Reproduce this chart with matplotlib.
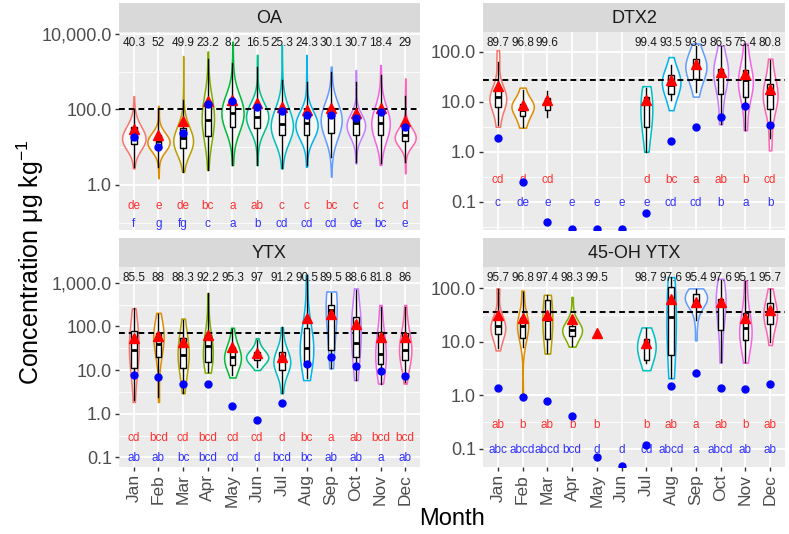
import numpy as np
import matplotlib.pyplot as plt
from matplotlib import cbook
from matplotlib.ticker import FixedLocator, FuncFormatter, NullFormatter
from matplotlib.transforms import blended_transform_factory

plt.rcParams['font.family'] = ['Liberation Sans', 'DejaVu Sans']
plt.rcParams['mathtext.default'] = 'regular'

nan = np.nan
months = ['Jan', 'Feb', 'Mar', 'Apr', 'May', 'Jun', 'Jul', 'Aug', 'Sep', 'Oct', 'Nov', 'Dec']
colors = ['#F8766D', '#DE8C00', '#B79F00', '#7CAE00', '#00BA38', '#00C08B',
          '#00BFC4', '#00B4F0', '#619CFF', '#C77CFF', '#F564E3', '#FF64B0']

# all concentrations below are log10(ug/kg)
# --- OA ---
oa_vlo = [0.44, 0.18, 0.35, 0.40, 0.53, 0.53, 0.44, 0.48, 0.22, 0.57, 0.53, 0.31]
oa_vhi = [2.35, 2.09, 3.41, 3.53, 3.79, 3.44, 3.70, 3.44, 3.13, 3.04, 3.17, 2.82]
oa_mode = [1.19, 1.10, 1.10, 1.80, 1.90, 1.80, 1.50, 1.54, 1.63, 1.54, 1.60, 1.19]
oa_vw = [0.95, 0.9, 0.8, 0.5, 0.9, 0.9, 0.9, 0.9, 0.85, 0.75, 0.75, 0.85]
oa_wlo = [0.48, 0.48, 0.35, 0.40, 0.53, 0.53, 0.44, 0.53, 0.75, 0.62, 0.57, 0.62]
oa_q1 = [1.08, 0.97, 0.97, 1.30, 1.54, 1.50, 1.32, 1.32, 1.37, 1.32, 1.32, 1.15]
oa_med = [1.26, 1.17, 1.23, 1.72, 1.91, 1.81, 1.61, 1.63, 1.85, 1.63, 1.63, 1.32]
oa_q3 = [1.53, 1.32, 1.50, 2.16, 2.25, 2.05, 1.98, 1.85, 2.03, 1.76, 1.98, 1.50]
oa_whi = [2.00, 2.00, 2.25, 3.33, 3.22, 3.13, 2.78, 2.73, 3.00, 2.73, 2.91, 2.34]
oa_mean = [1.47, 1.32, 1.68, 2.23, 2.25, 2.16, 2.05, 1.98, 2.03, 1.90, 2.03, 1.68]
oa_blue = [1.28, 1.01, 1.37, 2.14, 2.21, 2.05, 1.96, 1.85, 1.85, 1.76, 1.94, 1.54]
oa_pct = [40.3, 52, 49.9, 23.2, 8.2, 16.5, 25.3, 24.3, 30.1, 30.7, 18.4, 29]
oa_red = ['de', 'e', 'de', 'bc', 'a', 'ab', 'c', 'c', 'bc', 'c', 'c', 'd']
oa_blu = ['f', 'g', 'fg', 'c', 'a', 'b', 'cd', 'cd', 'cd', 'de', 'bc', 'e']
oa_limit = 2.0

# --- DTX2 ---
dt_vlo = [0.50, 0.48, nan, nan, nan, nan, 0.00, 0.83, 1.10, 0.55, 0.43, 0.03]
dt_vhi = [2.03, 1.28, nan, nan, nan, nan, 1.31, 1.89, 2.16, 2.12, 2.16, 1.86]
dt_mode = [1.03, 0.96, nan, nan, nan, nan, 0.65, 1.43, 1.69, 1.63, 1.36, 1.10]
dt_vw = [0.68, 0.9, 0, 0, 0, 0, 0.48, 0.75, 0.85, 0.6, 0.6, 0.6]
dt_wlo = [0.53, 0.50, 0.70, nan, nan, nan, 0.00, 1.03, 1.20, 0.56, 0.43, 0.27]
dt_q1 = [0.90, 0.71, 0.83, nan, nan, nan, 0.50, 1.16, 1.46, 1.16, 1.10, 0.86]
dt_med = [1.10, 0.83, 1.00, nan, nan, nan, 1.05, 1.33, 1.69, 1.53, 1.43, 1.16]
dt_q3 = [1.26, 0.96, 1.08, nan, nan, nan, 1.10, 1.53, 1.86, 1.66, 1.63, 1.36]
dt_whi = [1.79, 1.24, 1.22, nan, nan, nan, 1.28, 1.73, 2.12, 2.12, 2.16, 1.83]
dt_mean = [1.31, 0.93, 1.03, nan, nan, nan, 1.03, 1.43, 1.75, 1.59, 1.55, 1.26]
dt_blue = [0.28, -0.60, -1.41, -1.55, -1.55, -1.55, -1.22, 0.21, 0.50, 0.70, 0.91, 0.53]
dt_pct = [89.7, 96.8, 99.6, nan, nan, nan, 99.4, 93.5, 93.9, 86.5, 75.4, 80.8]
dt_red = ['cd', 'd', 'cd', '', '', '', 'd', 'bc', 'a', 'ab', 'b', 'cd']
dt_blu = ['c', 'de', 'e', 'e', 'e', 'e', 'e', 'cd', 'cd', 'b', 'a', 'b']
dt_limit = 1.436

# --- YTX ---
yt_vlo = [0.27, 0.27, 0.47, 0.94, 0.83, 1.00, 0.47, 0.77, 1.04, 0.77, 0.69, 0.69]
yt_vhi = [2.41, 2.31, 2.18, 2.76, 1.97, 1.73, 1.98, 3.18, 2.80, 2.87, 2.49, 2.49]
yt_mode = [1.53, 1.92, 1.38, 1.31, 1.27, 1.27, 1.15, 1.50, 2.61, 2.07, 1.31, 1.46]
yt_vw = [0.4, 0.42, 0.45, 0.4, 0.68, 0.9, 0.68, 0.55, 0.45, 0.4, 0.43, 0.5]
yt_wlo = [0.31, 0.39, 0.47, 0.96, 0.89, 1.08, 0.47, 0.81, 1.04, 0.77, 0.69, 0.73]
yt_q1 = [1.04, 1.31, 1.04, 1.19, 1.11, 1.23, 1.00, 1.15, 1.46, 1.29, 1.14, 1.23]
yt_med = [1.47, 1.60, 1.34, 1.55, 1.31, 1.31, 1.23, 1.50, 2.38, 1.63, 1.37, 1.46]
yt_q3 = [1.90, 1.84, 1.73, 1.80, 1.53, 1.42, 1.42, 1.96, 2.49, 2.21, 1.88, 1.84]
yt_whi = [2.41, 2.28, 2.15, 2.76, 1.95, 1.69, 1.98, 3.18, 2.77, 2.83, 2.45, 2.45]
yt_mean = [1.73, 1.78, 1.65, 1.80, 1.52, 1.40, 1.31, 2.19, 2.28, 2.05, 1.75, 1.75]
yt_blue = [0.89, 0.85, 0.68, 0.68, 0.18, -0.15, 0.25, 1.15, 1.31, 1.09, 0.98, 0.86]
yt_pct = [85.5, 88, 88.3, 92.2, 95.3, 97, 91.2, 90.5, 89.5, 88.6, 81.8, 86]
yt_red = ['cd', 'bcd', 'cd', 'bcd', 'cd', 'cd', 'd', 'bc', 'a', 'ab', 'bcd', 'bcd']
yt_blu = ['ab', 'ab', 'bc', 'bcd', 'cd', 'd', 'bcd', 'bc', 'ab', 'ab', 'a', 'ab']
yt_limit = 1.84

# --- 45-OH YTX ---
oh_vlo = [0.84, -0.03, 0.78, 0.91, nan, nan, 0.47, 0.32, 1.03, 0.61, 0.61, 0.94]
oh_vhi = [2.00, 1.96, 1.88, 1.84, nan, nan, 1.27, 2.21, 2.00, 2.18, 2.15, 2.00]
oh_mode = [1.25, 1.35, 1.40, 1.22, nan, nan, 0.91, 1.30, 1.84, 1.75, 1.16, 1.50]
oh_vw = [0.6, 0.45, 0.4, 0.8, 0, 0, 0.75, 0.38, 0.9, 0.4, 0.5, 0.55]
oh_wlo = [0.88, 0.91, 0.79, 0.92, nan, nan, 0.60, 0.32, 1.40, 0.62, 0.63, 1.00]
oh_q1 = [1.14, 1.08, 1.06, 1.11, nan, nan, 0.67, 0.75, 1.67, 1.23, 1.03, 1.34]
oh_med = [1.29, 1.29, 1.40, 1.22, nan, nan, 0.92, 1.47, 1.76, 1.75, 1.25, 1.52]
oh_q3 = [1.45, 1.44, 1.78, 1.29, nan, nan, 1.06, 2.03, 1.90, 1.81, 1.54, 1.72]
oh_whi = [1.98, 1.93, 1.87, 1.47, nan, nan, 1.25, 2.21, 1.98, 2.15, 2.14, 1.98]
oh_mean = [1.50, 1.45, 1.50, 1.42, 1.17, nan, 0.97, 1.81, 1.75, 1.75, 1.44, 1.59]
oh_blue = [0.13, -0.04, -0.11, -0.39, -1.16, -1.33, -0.93, 0.18, 0.41, 0.13, 0.12, 0.21]
oh_pct = [95.7, 96.8, 97.4, 98.3, 99.5, nan, 98.7, 97.6, 95.4, 97.6, 95.1, 95.7]
oh_red = ['ab', 'b', 'ab', 'b', 'b', '', 'b', 'ab', 'a', 'ab', 'b', 'ab']
oh_blu = ['abc', 'abcd', 'abcd', 'bcd', 'd', 'd', 'cd', 'abcd', 'a', 'abcd', 'ab', 'ab']
oh_limit = 1.563

fig = plt.figure(figsize=(7.89, 5.34), dpi=100)
W, H = 789, 534


def add_px(x0, y0, x1, y1):
    return fig.add_axes([x0 / W, 1 - y1 / H, (x1 - x0) / W, (y1 - y0) / H])


def make_kde(tail, whisk):
    # pseudo-sample is [vlo, wlo, q1, med, mode, q3, whi, vhi]
    w = np.array([tail, whisk, 1.0, 1.0, 1.5, 1.0, whisk, tail])

    def kde(X, coords):
        h = max(0.15, 0.6 * (X[5] - X[2]))
        d = (coords[:, None] - X[None, :]) / h
        return (np.exp(-0.5 * d ** 2) * w).sum(axis=1)
    return kde


def panel(box, title, ylim, majors, limit, tails, vlo, vhi, vmode, vw, wlo, q1, med, q3,
          whi, mean, blue, pct, red_let, blue_let, show_x):
    x0, y0, x1, y1 = box
    st = add_px(x0, y0 - 29, x1, y0)
    st.set_facecolor('#D9D9D9')
    st.set_xticks([])
    st.set_yticks([])
    for s in st.spines.values():
        s.set_visible(False)
    st.text(0.5, 0.45, title, ha='center', va='center', fontsize=13, color='#1A1A1A',
            transform=st.transAxes)

    ax = add_px(*box)
    ax.set_facecolor('#EBEBEB')
    for s in ax.spines.values():
        s.set_visible(False)
    ax.set_yscale('log')
    ax.set_xlim(0.4, 12.6)
    ax.set_ylim(10 ** ylim[0], 10 ** ylim[1])
    ax.set_axisbelow(True)

    minors = [10 ** (np.log10(m) + 0.5 * (np.log10(majors[1]) - np.log10(majors[0])))
              for m in [majors[0] / (majors[1] / majors[0])] + list(majors)]
    ax.yaxis.set_major_locator(FixedLocator(majors))
    ax.yaxis.set_minor_locator(FixedLocator(minors))
    ax.yaxis.set_major_formatter(FuncFormatter(lambda v, p: f'{v:,.1f}'))
    ax.yaxis.set_minor_formatter(NullFormatter())
    ax.set_xticks(range(1, 13))
    ax.grid(which='major', color='white', lw=1.3)
    ax.grid(which='minor', axis='y', color='white', lw=0.6)
    ax.tick_params(which='minor', length=0)
    ax.tick_params(axis='y', which='major', length=3, width=1, color='#333333',
                   labelcolor='#4D4D4D', labelsize=13, pad=2)
    if show_x:
        ax.set_xticklabels(months, rotation=90)
        ax.tick_params(axis='x', length=3, width=1, color='#333333',
                       labelcolor='#4D4D4D', labelsize=12.5, pad=2)
    else:
        ax.tick_params(axis='x', length=0, labelbottom=False)

    ax.axhline(10 ** limit, color='black', ls=(0, (3, 2)), lw=1.4, zorder=1.5)

    # violins: weighted kernel density of the read-off statistics, in log space
    idx = [i for i in range(12) if vw[i] > 0]
    data = [np.array([vlo[i], wlo[i], q1[i], med[i], vmode[i], q3[i], whi[i], vhi[i]])
            for i in idx]
    stats = cbook.violin_stats(data, make_kde(*tails), points=150)
    for s in stats:
        for k in ('coords', 'mean', 'median', 'min', 'max'):
            s[k] = 10 ** np.asarray(s[k])
    parts = ax.violin(stats, positions=[i + 1 for i in idx], widths=[vw[i] for i in idx],
                      showextrema=False)
    for j, body in zip(idx, parts['bodies']):
        body.set_alpha(None)
        body.set_facecolor((1, 1, 1, 0.65))
        body.set_edgecolor(colors[j])
        body.set_linewidth(1.1)
        body.set_zorder(1)

    bidx = [i for i in range(12) if not np.isnan(med[i])]
    bstats = [dict(med=10 ** med[i], q1=10 ** q1[i], q3=10 ** q3[i],
                   whislo=10 ** wlo[i], whishi=10 ** whi[i], fliers=[]) for i in bidx]
    ax.bxp(bstats, positions=[i + 1 for i in bidx], widths=0.22, showfliers=False,
           showcaps=False, patch_artist=True, manage_ticks=False,
           boxprops=dict(facecolor='white', edgecolor='black', linewidth=1.0),
           whiskerprops=dict(color='black', linewidth=1.0),
           medianprops=dict(color='black', linewidth=2.0))

    x = np.arange(1, 13)
    ax.plot(x, 10 ** np.array(mean), ls='none', marker='^', color='red', ms=6.5, zorder=4)
    ax.plot(x, 10 ** np.array(blue), ls='none', marker='o', color='blue', ms=5, zorder=5)

    tr = blended_transform_factory(ax.transData, ax.transAxes)
    for i in range(12):
        if not np.isnan(pct[i]):
            ax.text(i + 1, 0.945, f'{pct[i]:g}', transform=tr, ha='center', va='center',
                    fontsize=8.5, color='#1A1A1A')
        if red_let[i]:
            ax.text(i + 1, 0.28, red_let[i], ha='center', va='center', fontsize=8.5,
                    color='#FF3030')
        if blue_let[i]:
            ax.text(i + 1, 0.095, blue_let[i], ha='center', va='center', fontsize=8.5,
                    color='#3030FF')
    return ax


panel((119, 32, 420, 230), 'OA', (-1.19, 4.045), [1, 100, 10000], oa_limit, (0.03, 0.12),
      oa_vlo, oa_vhi, oa_mode, oa_vw, oa_wlo, oa_q1, oa_med, oa_q3, oa_whi,
      oa_mean, oa_blue, oa_pct, oa_red, oa_blu, False)
panel((483, 32, 785, 230), 'DTX2', (-1.56, 2.39), [0.1, 1, 10, 100], dt_limit, (0.3, 0.45),
      dt_vlo, dt_vhi, dt_mode, dt_vw, dt_wlo, dt_q1, dt_med, dt_q3, dt_whi,
      dt_mean, dt_blue, dt_pct, dt_red, dt_blu, False)
panel((119, 267, 420, 467), 'YTX', (-1.22, 3.36), [0.1, 1, 10, 100, 1000], yt_limit,
      (0.1, 0.3), yt_vlo, yt_vhi, yt_mode, yt_vw, yt_wlo, yt_q1, yt_med, yt_q3, yt_whi,
      yt_mean, yt_blue, yt_pct, yt_red, yt_blu, True)
panel((483, 267, 785, 467), '45-OH YTX', (-1.34, 2.40), [0.1, 1, 10, 100], oh_limit,
      (0.3, 0.45), oh_vlo, oh_vhi, oh_mode, oh_vw, oh_wlo, oh_q1, oh_med, oh_q3, oh_whi,
      oh_mean, oh_blue, oh_pct, oh_red, oh_blu, True)

fig.text(30 / W, 1 - 262 / H, 'Concentration μg kg$^{-1}$', rotation=90, ha='center',
         va='center', fontsize=18)
fig.text(452 / W, 1 - 519 / H, 'Month', ha='center', va='center', fontsize=17)

fig.savefig('out.png', dpi=100)
